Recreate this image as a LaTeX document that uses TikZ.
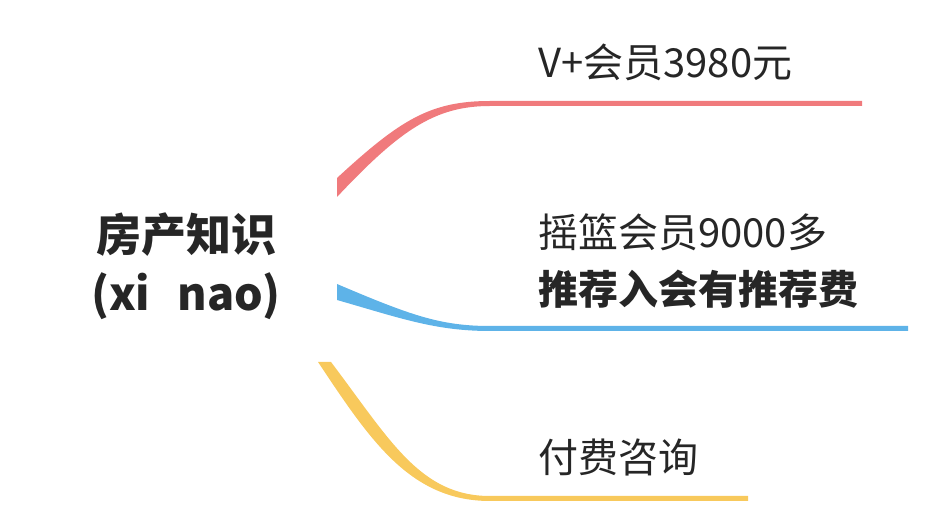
\documentclass[tikz,border=0pt]{standalone}
\usepackage{fontspec}
\setmainfont{Noto Sans CJK SC}
\begin{document}
\begin{tikzpicture}[x=1pt,y=-1pt,
  lbl/.style={anchor=west,inner sep=0pt,font=\fontsize{40}{44}\selectfont,text=black!85},
  ttl/.style={inner sep=0pt,font=\fontsize{45}{50}\selectfont\bfseries,text=black!85}]
\useasboundingbox (0,0) rectangle (938,518);
\definecolor{cred}{HTML}{F07A7C}
\definecolor{cblue}{HTML}{5EB3E8}
\definecolor{cyel}{HTML}{F8C95C}
\node[ttl] (t1) at (186,235) {房产知识};
\node[ttl] (t2) at (186,296) {(xi\hspace{0.6em}nao)};
% red
\fill[cred] (337,178) .. controls (400,120) and (430,101) .. (490,101) -- (862,101) -- (862,106) -- (490,106) .. controls (435,106) and (400,130) .. (337,197) -- cycle;
% blue
\fill[cblue] (337,284) .. controls (410,315) and (440,326) .. (490,326) -- (908,326) -- (908,331) -- (490,331) .. controls (435,331) and (400,318) .. (337,300) -- cycle;
% yellow
\fill[cyel] (318,362) -- (331,362) .. controls (390,440) and (420,496) .. (490,496) -- (748,496) -- (748,501) -- (490,501) .. controls (410,501) and (370,440) .. cycle;
\node[lbl] (a) at (538,62) {V+会员3980元};
\node[lbl] (b) at (538,232) {摇篮会员9000多};
\node[lbl,font=\fontsize{40}{44}\selectfont\bfseries] (c) at (538,289) {推荐入会有推荐费};
\node[lbl] (d) at (538,457) {付费咨询};
\end{tikzpicture}
\end{document}
